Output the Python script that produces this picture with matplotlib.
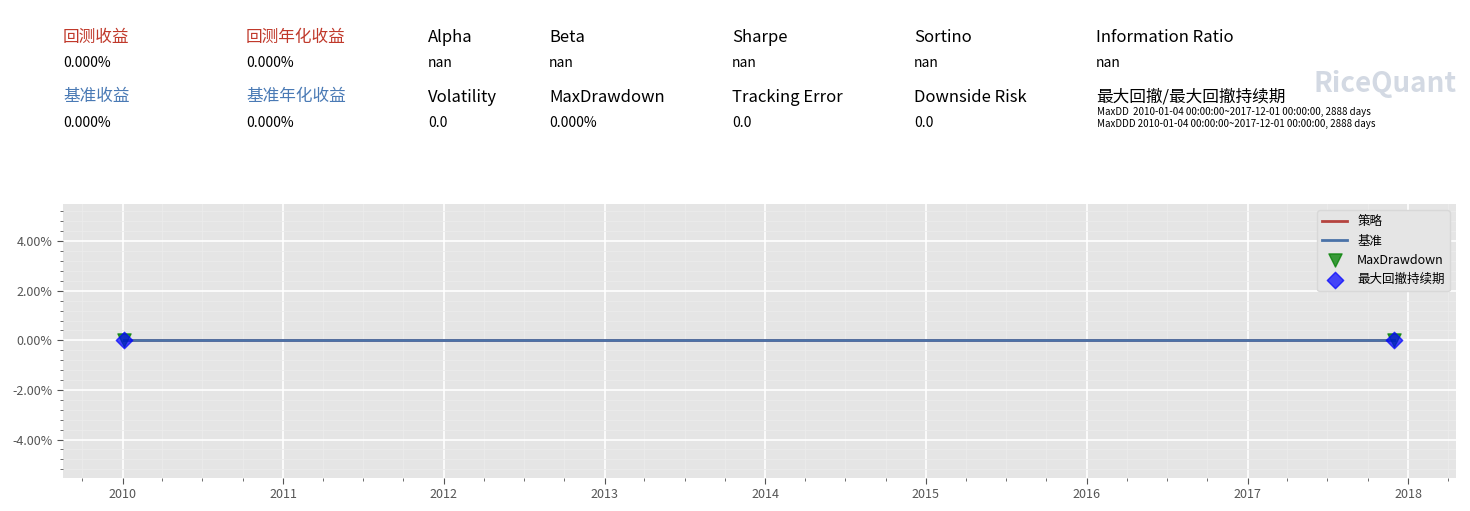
import matplotlib
matplotlib.use("Agg")
import matplotlib.pyplot as plt
import matplotlib.dates as mdates
from matplotlib.ticker import FuncFormatter, AutoMinorLocator
import pandas as pd

plt.rcParams['font.family'] = ['Noto Sans CJK SC', 'DejaVu Sans']

dates = pd.to_datetime(["2010-01-04", "2011-01-04", "2012-01-04", "2013-01-04", "2014-01-03",
                        "2015-01-05", "2016-01-04", "2017-01-03", "2017-12-01"])
strategy = [0, 0, 0, 0, 0, 0, 0, 0, 0]
benchmark = [0, 0, 0, 0, 0, 0, 0, 0, 0]
maxdd_dates = pd.to_datetime(["2010-01-04", "2017-12-01"])
maxdd_vals = [0, 0]
maxddd_dates = pd.to_datetime(["2010-01-04", "2017-12-01"])
maxddd_vals = [0, 0]

row1_labels = ["回测收益", "回测年化收益", "Alpha", "Beta", "Sharpe", "Sortino", "Information Ratio"]
row1_values = ["0.000%", "0.000%", "nan", "nan", "nan", "nan", "nan"]
row2_labels = ["基准收益", "基准年化收益", "Volatility", "MaxDrawdown", "Tracking Error", "Downside Risk", "最大回撤/最大回撤持续期"]
row2_values = ["0.000%", "0.000%", "0.0", "0.000%", "0.0", "0.0", ""]
label_colors1 = ["#c0392b", "#c0392b"] + ["black"] * 5
label_colors2 = ["#4a7ab5", "#4a7ab5"] + ["black"] * 5

W, H = 1470, 511
fig = plt.figure(figsize=(14.7, 5.11), dpi=100)
xs = [63, 246, 428, 549, 732, 914, 1096]
for i, x in enumerate(xs):
    fig.text(x / W, 1 - 37 / H, row1_labels[i], color=label_colors1[i], fontsize=12, va='center')
    fig.text(x / W, 1 - 63 / H, row1_values[i], fontsize=10, va='center')
    fig.text(x / W, 1 - 97 / H, row2_labels[i], color=label_colors2[i], fontsize=12, va='center')
    if row2_values[i]:
        fig.text(x / W, 1 - 123 / H, row2_values[i], fontsize=10, va='center')
fig.text(1097 / W, 1 - 112 / H, "MaxDD  2010-01-04 00:00:00~2017-12-01 00:00:00, 2888 days", fontsize=7, va='center')
fig.text(1097 / W, 1 - 124 / H, "MaxDDD 2010-01-04 00:00:00~2017-12-01 00:00:00, 2888 days", fontsize=7, va='center')
fig.text(1385 / W, 1 - 84 / H, "RiceQuant", fontsize=20, color='#c8d0dc', fontweight='bold', ha='center', va='center', alpha=0.8)

ax = fig.add_axes([63 / W, 1 - 478 / H, (1456 - 63) / W, (478 - 204) / H])
ax.set_facecolor('#e5e5e5')
for s in ax.spines.values():
    s.set_visible(False)
ax.plot(dates, [v * 100 for v in strategy], color='#b5443f', lw=2, label='策略')
ax.plot(dates, [v * 100 for v in benchmark], color='#4a72a8', lw=2, label='基准')
ax.scatter(maxdd_dates, maxdd_vals, marker='v', s=90, color='green', alpha=0.75, label='MaxDrawdown', zorder=3)
ax.scatter(maxddd_dates, maxddd_vals, marker='D', s=70, color='blue', alpha=0.7, label='最大回撤持续期', zorder=4)
ax.set_ylim(-5.55, 5.5)
ax.set_xlim(pd.Timestamp("2009-08-18"), pd.Timestamp("2018-04-20"))
ax.yaxis.set_major_formatter(FuncFormatter(lambda v, p: f"{v:.2f}%"))
ax.set_yticks([-4, -2, 0, 2, 4])
ax.yaxis.set_minor_locator(AutoMinorLocator(5))
ax.xaxis.set_major_locator(mdates.YearLocator())
ax.xaxis.set_major_formatter(mdates.DateFormatter('%Y'))
ax.xaxis.set_minor_locator(mdates.MonthLocator(bymonth=[1, 4, 7, 10]))
ax.grid(which='major', color='white', lw=1.2)
ax.grid(which='minor', color='#ececec', lw=0.6)
ax.set_axisbelow(True)
ax.tick_params(which='both', colors='#555555', labelsize=9)
ax.tick_params(which='major', length=4)
ax.tick_params(which='minor', length=2)
leg = ax.legend(loc='upper right', fontsize=9, facecolor='#e5e5e5', edgecolor='#d8d8d8', framealpha=1)
fig.savefig("out.png", dpi=100)
